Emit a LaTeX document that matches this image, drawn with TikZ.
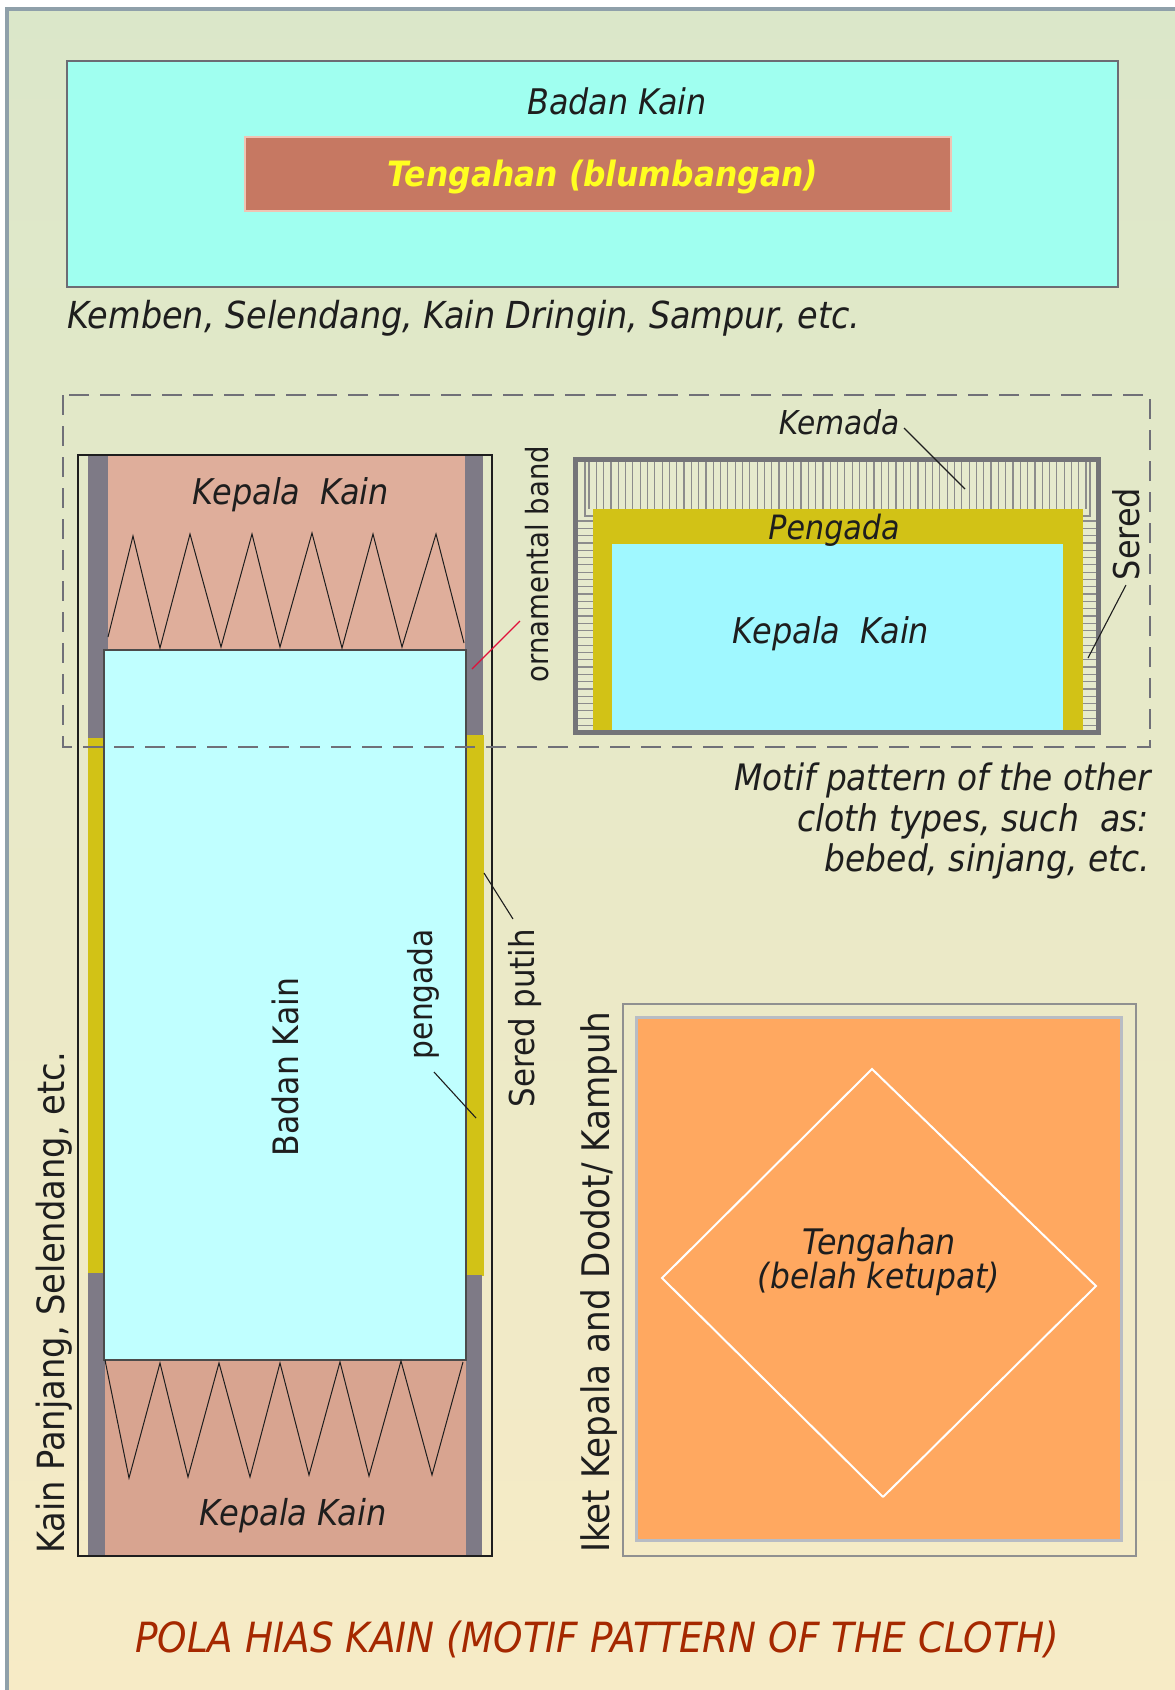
\documentclass[tikz,border=0pt]{standalone}
\usepackage{fontspec}
\setmainfont{DejaVu Sans Condensed}
\definecolor{bgtop}{HTML}{DBE7C9}
\definecolor{bgbot}{HTML}{F7EBC6}
\definecolor{framec}{HTML}{8FA0AA}
\definecolor{ink}{HTML}{1E1E1E}
\definecolor{boxedge}{HTML}{6C6C74}
\definecolor{cyanA}{HTML}{A0FFF0}
\definecolor{redbox}{HTML}{C67862}
\definecolor{rededge}{HTML}{F0C4B4}
\definecolor{yellowtxt}{HTML}{FFFF20}
\definecolor{pinkA}{HTML}{DFAE9B}
\definecolor{pinkB}{HTML}{D8A490}
\definecolor{cyanB}{HTML}{C0FFFF}
\definecolor{cyanC}{HTML}{A0F8FF}
\definecolor{graystripe}{HTML}{7E7A86}
\definecolor{yellowS}{HTML}{D2C216}
\definecolor{dashc}{HTML}{707078}
\definecolor{panelgray}{HTML}{747478}
\definecolor{hatchc}{HTML}{8C8C8C}
\definecolor{hatchbg}{HTML}{E6EACD}
\definecolor{orangeF}{HTML}{FFA860}
\definecolor{orangeE}{HTML}{B8BCC4}
\definecolor{sqedge}{HTML}{909090}
\definecolor{leaderred}{HTML}{E0103A}
\definecolor{titlered}{HTML}{A52800}
\newcommand\txtsize[1]{\fontsize{#1}{#1}\selectfont}
\tikzset{
  lab/.style={inner sep=0pt, text=ink, anchor=base, font=\itshape\txtsize{#1}},
  lab/.default=35.5,
  vlab/.style={inner sep=0pt, text=ink, rotate=90, anchor=base, font=\txtsize{#1}},
  vlab/.default=34,
  leader/.style={draw=ink, line width=1.1pt},
  zig/.style={draw=ink, line width=1pt, line join=miter},
  hatch/.style={draw=hatchc, line width=1.2pt},
}
\begin{document}
\begin{tikzpicture}[x=1pt,y=-1pt]
\useasboundingbox (0,0) rectangle (1175,1690);
% page background and frame
\fill[white] (0,0) rectangle (1175,1690);
\shade[top color=bgtop, bottom color=bgbot] (7,9) rectangle (1175,1690);
\draw[framec, line width=4pt] (7,1694) -- (7,9) -- (1179,9);

% ---- short cloth: body with central field
\filldraw[draw=boxedge, fill=cyanA, line width=2.5pt] (67,61) rectangle (1118,287);
\filldraw[draw=rededge, fill=redbox, line width=2.5pt] (245,137) rectangle (951,211);
\node[lab=35.3] (badantop) at (617,114.5) {Badan Kain};
\node[lab, font=\bfseries\itshape\txtsize{34.9}, text=yellowtxt] (tengahtop) at (603,186) {Tengahan (blumbangan)};
\node[lab=37.2, anchor=base west] (kemben) at (67,328) {Kemben, Selendang, Kain Dringin, Sampur, etc.};

% ---- long cloth
\fill[graystripe] (88,456) rectangle (108,738);
\fill[graystripe] (465,456) rectangle (483,737);
\fill[pinkA] (108,456) rectangle (465,650);
\fill[yellowS] (88,738) rectangle (104,1273);
\fill[yellowS] (466,735) rectangle (484,1276);
\fill[graystripe] (88,1273) rectangle (105,1556);
\fill[graystripe] (466,1275) rectangle (482,1556);
\fill[pinkB] (105,1360) rectangle (466,1556);
\filldraw[draw=ink!80, fill=cyanB, line width=1.3pt] (104,650) rectangle (466,1360);
% tumpal zigzags of the two heads
\draw[zig] (108,637) -- (133,536) -- (160,648) -- (190,534) -- (221,647) -- (252,534)
  -- (280,647) -- (312,533) -- (342,648) -- (373,534) -- (402,647) -- (436,534) -- (464,643);
\draw[zig] (105,1360) -- (129,1478) -- (160,1363) -- (188,1477) -- (219,1363) -- (250,1477)
  -- (280,1363) -- (309,1475) -- (340,1362) -- (369,1476) -- (401,1361) -- (432,1475) -- (463,1362);
\draw[ink, line width=2.5pt] (78,455) rectangle (492,1556);

\node[lab] (kepalaL1) at (291,504) {Kepala\ \ Kain};
\node[lab=35.7] (kepalaL2) at (293,1525) {Kepala Kain};
\node[vlab=35] (badanL) at (298,1067) {Badan Kain};
\node[vlab=33] (pengadaL) at (432,994) {pengada};
\node[vlab=34.3] (seredputih) at (534,1018) {Sered putih};
\node[vlab=30.6] (ornband) at (548,564) {ornamental band};
\node[vlab=37.5] (kainpanjang) at (64,1303) {Kain Panjang, Selendang, etc.};

\coordinate (ornA) at (520,621);
\coordinate (ornB) at (472,669);
\draw[draw=leaderred, line width=1.3pt] (ornA) -- (ornB);
\coordinate (spA) at (484,873);
\coordinate (spB) at (513,919);
\draw[leader] (spB) -- (spA);
\coordinate (pgA) at (434,1072);
\coordinate (pgB) at (476,1118);
\draw[leader] (pgA) -- (pgB);

% ---- head of the other cloth types
\fill[hatchbg] (578,462) rectangle (1096,730);
\foreach \i in {0,...,68} \draw[hatch] ({589+\i*7.31},462) -- ({589+\i*7.31},509);
\foreach \j in {0,...,28} {
  \draw[hatch] (578,{521+\j*7.3}) -- (593,{521+\j*7.3});
  \draw[hatch] (1083,{521+\j*7.3}) -- (1096,{521+\j*7.3});
}
\draw[hatch] (585,462) -- (585,516) -- (593,516);
\draw[hatch] (1090,462) -- (1090,516) -- (1083,516);
\fill[yellowS] (593,509) rectangle (1083,731);
\fill[cyanC] (612,544) rectangle (1063,731);
\draw[panelgray, line width=5pt] (575.5,459.5) rectangle (1098,732);

\node[lab=32.9] (kemada) at (839,434) {Kemada};
\node[lab=33.5] (pengadaR) at (834,539.5) {Pengada};
\node[lab] (kepalaR) at (831,643.5) {Kepala\ \ Kain};
\node[vlab=35.5] (sered) at (1139,534) {Sered};
\coordinate (kmA) at (904,428);
\coordinate (kmB) at (965,489);
\draw[leader] (kmA) -- (kmB);
\coordinate (sdA) at (1126,585);
\coordinate (sdB) at (1088,658);
\draw[leader] (sdA) -- (sdB);

\node[lab=36.4, anchor=base east] (motif1) at (1151,790.5) {Motif pattern of the other};
\node[lab=36.8, anchor=base east] (motif2) at (1149,831.5) {cloth types, such\ \ as:};
\node[lab=36.6, anchor=base east] (motif3) at (1150,871.5) {bebed, sinjang, etc.};

% dashed grouping frame
\draw[dashc, line width=2.5pt, dash pattern=on 20pt off 11pt] (63,395) rectangle (1150,747);

% ---- square cloth
\draw[sqedge, line width=1.2pt] (623,1004) rectangle (1136,1556);
\filldraw[draw=orangeE, fill=orangeF, line width=3pt] (636,1017) rectangle (1121,1540);
\coordinate (dT) at (872,1069);
\coordinate (dL) at (662,1278);
\coordinate (dR) at (1096,1286);
\coordinate (dB) at (883,1497);
\draw[white, line width=2pt] (dB) -- (dL) -- (dT) -- (dR) -- (dB);
\node[lab=35.2] (tengahsq1) at (879,1254) {Tengahan};
\node[lab=34.8] (tengahsq2) at (879,1288) {(belah ketupat)};
\node[vlab=38] (iket) at (609,1282) {Iket Kepala and Dodot/ Kampuh};

% title
\node[lab=41.6, text=titlered] (title) at (597,1652) {POLA HIAS KAIN (MOTIF PATTERN OF THE CLOTH)};
\end{tikzpicture}
\end{document}
